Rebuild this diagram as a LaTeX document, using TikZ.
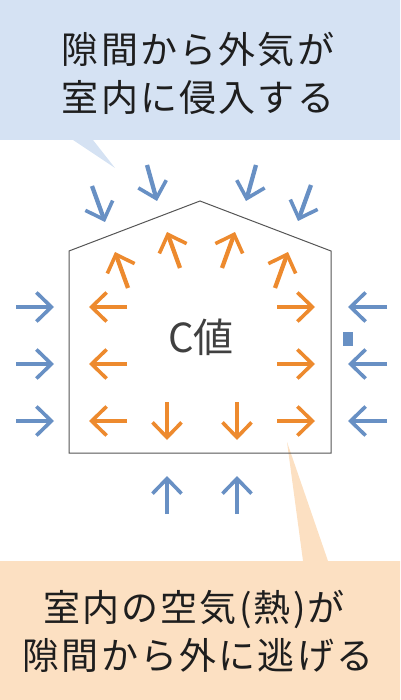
\documentclass[tikz,border=0pt]{standalone}
\usepackage{fontspec}
\setmainfont{Noto Sans CJK JP}
\newfontfamily\callfont{Noto Sans CJK JP}[LetterSpace=6]
\usetikzlibrary{arrows.meta}
\definecolor{boxblue}{RGB}{213,226,243}
\definecolor{boxpeach}{RGB}{252,224,194}
\definecolor{arrorange}{RGB}{237,138,46}
\definecolor{arrblue}{RGB}{104,144,196}
\definecolor{housegray}{RGB}{85,85,85}
\definecolor{txtdark}{RGB}{30,30,30}
\definecolor{cgray}{RGB}{64,64,64}
\tikzset{
  flowarrow/.style={line width=4.3pt,-{Straight Barb[length=15pt,width=29pt,line width=3.6pt]}},
  outflow/.style={flowarrow,arrorange},
  inflow/.style={flowarrow,arrblue},
  calltext/.style={inner sep=0pt,anchor=base,text=txtdark,font=\callfont\fontsize{37pt}{44pt}\selectfont},
}
\begin{document}
\begin{tikzpicture}[x=1pt,y=-1pt]
\useasboundingbox (0,0) rectangle (400,700);
% top callout
\fill[boxblue] (0,0) -- (400,0) -- (400,140) -- (93,140) -- (115,168) -- (73,140) -- (0,140) -- cycle;
\node[calltext] (t1) at (198,64) {隙間から外気が};
\node[calltext] (t2) at (198,112) {室内に侵入する};
% bottom callout
\fill[boxpeach] (0,561) -- (303,561) -- (287,442) -- (328,561) -- (400,561) -- (400,700) -- (0,700) -- cycle;
\node[calltext] (b1) at (194,621) {室内の空気(熱)が};
\node[calltext] (b2) at (198,669) {隙間から外に逃げる};
% house
\draw[housegray,line width=1pt,line join=miter] (69,453) -- (69,251) -- (200,201) -- (331,251) -- (331,453) -- cycle;
\node[inner sep=0pt,anchor=base,text=cgray,font=\fontsize{40pt}{48pt}\selectfont] (cval) at (201,352) {C値};
% orange arrows (out)
\foreach \y in {307,364,421}{
  \draw[outflow] (127,\y) -- (89,\y);
  \draw[outflow] (277,\y) -- (315,\y);
}
\foreach \x in {167,237}{
  \draw[outflow] (\x,402) -- (\x,440);
}
\draw[outflow] (128,288) -- (115,252);
\draw[outflow] (180,268) -- (167,232);
\draw[outflow] (222,268) -- (235,232);
\draw[outflow] (275,288) -- (288,252);
% blue arrows (in)
\foreach \y in {307,364,421}{
  \draw[inflow] (16,\y) -- (54,\y);
  \draw[inflow] (387,\y) -- (348,\y);
}
\foreach \x in {167,237}{
  \draw[inflow] (\x,514) -- (\x,476);
}
\draw[inflow] (92,186) -- (105,222);
\draw[inflow] (147,165) -- (157,201);
\draw[inflow] (256,165) -- (246,201);
\draw[inflow] (311,185) -- (298,221);
\fill[arrblue] (343,332) rectangle (353,346);
\end{tikzpicture}
\end{document}
